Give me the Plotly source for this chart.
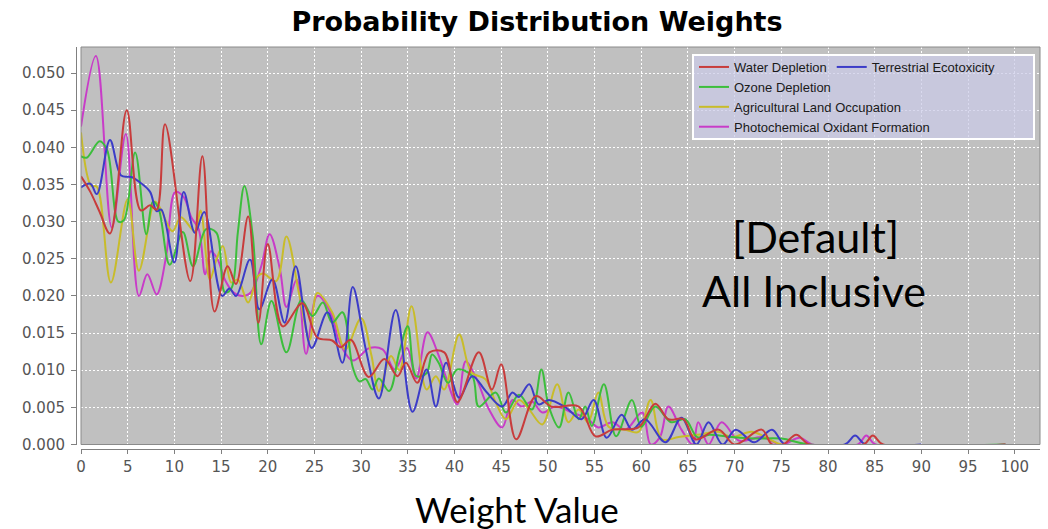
import plotly.graph_objects as go

# ---------------- data ----------------
water_x = [0, 1, 2, 3.1, 4.9, 6.4, 7.4, 8.1, 9.0, 11.7, 13.0, 14.3, 15.7, 16.6, 17.9, 19.0, 20.0,
           21.6, 23.7, 25.3, 26.9, 27.8, 28.9, 30.8, 32.5, 33.9, 34.8, 36.0, 37.3, 38.9, 40.3, 42.6,
           44.0, 45.0, 46.6, 48.7, 50.4, 53.3, 55.1, 56.9, 59.7, 61.5, 62.9, 64.5, 65.8, 68.3, 70.0,
           72.9, 74.0, 75.2, 76.6, 78.0, 83.8, 84.8, 85.9, 99.0]
water_y = [0.0361, 0.0340, 0.0313, 0.0284, 0.0450, 0.0315, 0.0322, 0.0316, 0.0431, 0.0220, 0.0388,
           0.0179, 0.0240, 0.0216, 0.0307, 0.0164, 0.0270, 0.0159, 0.0190, 0.0144, 0.0140, 0.0131,
           0.0141, 0.0091, 0.0115, 0.0092, 0.0110, 0.0083, 0.0124, 0.0124, 0.0057, 0.0124, 0.0074,
           0.0108, 0.0007, 0.0065, 0.0051, 0.0051, 0.0011, 0.0020, 0.0023, 0.0055, 0.0034, 0.0034,
           0.0007, 0.0020, 0.0, 0.0020, 0.0, 0.0, 0.0013, 0.0, 0.0, 0.0012, 0.0, 0.0]

terr_x = [0, 1.0, 1.7, 3.1, 4.3, 5.4, 6.4, 7.4, 8.1, 8.6, 10.0, 11.0, 12.2, 13.2, 15.1, 15.9, 16.6,
          18.1, 19.1, 20.5, 21.8, 23.0, 24.7, 26.4, 28.0, 29.1, 30.5, 31.9, 33.7, 35.5, 37.0, 38.0,
          39.1, 40.5, 41.9, 43.4, 45.1, 46.2, 46.9, 48.0, 49.0, 50.1, 51.9, 53.6, 54.9, 56.3, 57.9,
          59.0, 60.4, 62.6, 64.3, 65.9, 67.2, 68.7, 70.1, 72.1, 74.0, 75.4, 81.8, 82.9, 84.0, 90.0]
terr_y = [0.0346, 0.0351, 0.0337, 0.0410, 0.0362, 0.0360, 0.0352, 0.0340, 0.0314, 0.0316, 0.0245,
          0.0340, 0.0285, 0.0313, 0.0200, 0.0210, 0.0200, 0.0249, 0.0182, 0.0222, 0.0164, 0.0240,
          0.0130, 0.0178, 0.0110, 0.0212, 0.0128, 0.0062, 0.0181, 0.0044, 0.0101, 0.0051, 0.0110,
          0.0063, 0.0092, 0.0071, 0.0051, 0.0070, 0.0064, 0.0081, 0.0054, 0.0060, 0.0050, 0.0034,
          0.0060, 0.0009, 0.0040, 0.0020, 0.0034, 0.0003, 0.0036, 0.0, 0.0030, 0.0, 0.0020, 0.0003,
          0.0020, 0.0, 0.0, 0.0012, 0.0, 0.0]

ozone_x = [0, 0.6, 2.0, 2.8, 4.0, 4.6, 5.8, 7.0, 7.7, 8.3, 9.5, 10.9, 12.0, 13.4, 14.5, 15.4, 16.1,
           16.8, 17.5, 18.4, 19.3, 20.4, 22.0, 23.6, 24.8, 25.9, 26.9, 28.0, 29.1, 29.8, 30.5, 31.2,
           31.9, 33.0, 34.1, 35.0, 35.9, 37.0, 37.6, 38.3, 39.3, 40.3, 41.9, 42.6, 44.4, 45.5, 46.9,
           48.3, 49.3, 50.1, 51.2, 52.2, 53.3, 54.0, 54.7, 56.0, 57.3, 59.0, 60.0, 61.5, 63.2, 64.7,
           66.0, 67.3, 69.7, 72.0, 75.0, 78.0, 99.0]
ozone_y = [0.0388, 0.0386, 0.0408, 0.0396, 0.0300, 0.0302, 0.0393, 0.0283, 0.0327, 0.0318, 0.0242,
           0.0286, 0.0240, 0.0290, 0.0285, 0.0205, 0.0210, 0.0286, 0.0348, 0.0280, 0.0135, 0.0193,
           0.0124, 0.0194, 0.0173, 0.0191, 0.0164, 0.0178, 0.0104, 0.0085, 0.0088, 0.0074, 0.0089,
           0.0072, 0.0125, 0.0159, 0.0092, 0.0096, 0.0121, 0.0110, 0.0083, 0.0101, 0.0092, 0.0051,
           0.0070, 0.0043, 0.0067, 0.0047, 0.0101, 0.0051, 0.0023, 0.0070, 0.0034, 0.0051, 0.0025,
           0.0081, 0.0011, 0.0060, 0.0024, 0.0051, 0.0030, 0.0034, 0.0010, 0.0013, 0.0010, 0.0008,
           0.0008, 0.0, 0.0]

agri_x = [0, 1.1, 1.7, 3.2, 5.0, 6.2, 7.9, 8.4, 9.8, 10.7, 12.2, 12.8, 13.8, 14.5, 15.2, 16.1, 16.8,
          17.9, 18.9, 19.5, 20.9, 22.0, 23.4, 24.5, 25.3, 26.9, 28.3, 30.0, 31.1, 31.9, 33.2, 34.1,
          35.4, 37.0, 38.0, 38.9, 40.5, 41.8, 43.3, 44.4, 45.5, 46.9, 48.0, 49.4, 51.0, 52.2, 53.3,
          54.3, 55.4, 56.5, 58.3, 59.7, 61.0, 62.2, 64.0, 66.0, 68.3, 69.7, 71.8, 73.3, 75.0, 78.0]
agri_y = [0.0420, 0.0348, 0.0347, 0.0218, 0.0330, 0.0234, 0.0327, 0.0320, 0.0287, 0.0306, 0.0287,
          0.0315, 0.0222, 0.0249, 0.0267, 0.0218, 0.0222, 0.0191, 0.0226, 0.0230, 0.0220, 0.0280,
          0.0200, 0.0141, 0.0204, 0.0178, 0.0128, 0.0170, 0.0120, 0.0072, 0.0119, 0.0100, 0.0186,
          0.0074, 0.0092, 0.0074, 0.0148, 0.0097, 0.0088, 0.0057, 0.0034, 0.0060, 0.0047, 0.0027,
          0.0081, 0.0030, 0.0047, 0.0030, 0.0070, 0.0024, 0.0020, 0.0017, 0.0060, 0.0007, 0.0010,
          0.0013, 0.0017, 0.0010, 0.0017, 0.0010, 0.0, 0.0]

photo_x = [0, 1.6, 3.3, 4.8, 6.2, 7.1, 8.1, 9.1, 10.1, 11.0, 11.8, 12.6, 13.3, 13.9, 14.6, 15.4, 16.3,
           17.3, 18.2, 19.3, 20.2, 21.3, 22.0, 23.1, 24.1, 25.3, 26.9, 27.6, 29.1, 30.9, 32.3, 33.6,
           34.9, 35.9, 37.1, 38.3, 39.1, 40.3, 41.2, 42.3, 43.7, 45.1, 46.2, 47.2, 48.3, 49.4, 50.8,
           52.6, 54.3, 55.4, 56.9, 58.3, 60.1, 61.0, 62.0, 62.9, 64.3, 65.5, 66.1, 67.2, 68.6, 70.5,
           72.9, 75.0, 77.0, 78.3, 83.2, 84.1, 85.1, 99.0]
photo_y = [0.0428, 0.0523, 0.0292, 0.0418, 0.0200, 0.0229, 0.0202, 0.0252, 0.0340, 0.0333, 0.0306,
           0.0290, 0.0229, 0.0260, 0.0250, 0.0222, 0.0205, 0.0200, 0.0205, 0.0240, 0.0283, 0.0236,
           0.0185, 0.0222, 0.0122, 0.0200, 0.0173, 0.0140, 0.0113, 0.0130, 0.0128, 0.0101, 0.0130,
           0.0089, 0.0151, 0.0120, 0.0090, 0.0054, 0.0112, 0.0090, 0.0047, 0.0023, 0.0060, 0.0051,
           0.0058, 0.0043, 0.0051, 0.0043, 0.0034, 0.0023, 0.0030, 0.0020, 0.0043, 0.0, 0.0010,
           0.0051, 0.0020, 0.0, 0.0030, 0.0, 0.0030, 0.0005, 0.0010, 0.0, 0.0009, 0.0, 0.0, 0.0012,
           0.0, 0.0]

series_names = ["Water Depletion", "Terrestrial Ecotoxicity", "Ozone Depletion",
                "Agricultural Land Occupation", "Photochemical Oxidant Formation"]
x_ticks = list(range(0, 101, 5))

title_text = "Probability Distribution Weights"
note_lines = ["[Default]", "All Inclusive"]
x_label = "Weight Value"

# ---------------- layout geometry (pixels) ----------------
W, H = 1048, 529
ML, MR, MT, MB = 76, 8, 47, 79.5
PW, PH = W - ML - MR, H - MT - MB


def px2x(px):
    return (px - ML) / PW


def py2y(py):
    return (H - MB - py) / PH


colors = ["#c83c3c", "#3c3cc8", "#3cbe3c", "#c8bc2a", "#c83cc8"]
legends = ["legend", "legend", "legend2", "legend2", "legend2"]
xs = [water_x, terr_x, ozone_x, agri_x, photo_x]
ys = [water_y, terr_y, ozone_y, agri_y, photo_y]

fig = go.Figure()
for i in reversed(range(5)):
    fig.add_trace(go.Scatter(
        x=xs[i], y=ys[i], mode="lines", name=series_names[i],
        line=dict(color=colors[i], width=2, shape="spline", smoothing=1.0),
        legend=legends[i], legendrank=i + 1,
    ))

tick_font = dict(family="DejaVu Sans", size=15, color="#555555")
grid = dict(showgrid=True, gridcolor="white", gridwidth=1, griddash="2px,2px")
leg_font = dict(family="Liberation Sans", size=13, color="#1a1a1a")

fig.update_layout(
    width=W, height=H,
    margin=dict(l=ML, r=MR, t=MT, b=MB, pad=0),
    paper_bgcolor="white", plot_bgcolor="#c0c0c0",
    showlegend=True,
    title=dict(text="<b>" + title_text + "</b>", x=537 / W, xanchor="center",
               y=1 - 22 / H, yanchor="middle", yref="container",
               font=dict(family="DejaVu Sans", size=27, color="black")),
    xaxis=dict(domain=[5 / PW, 1], anchor="free", position=0,
               range=[0, 102.7], tickvals=x_ticks, ticks="outside", ticklen=4,
               tickcolor="#808080", showline=True, linecolor="#808080", linewidth=1,
               zeroline=False, tickfont=tick_font, **grid),
    yaxis=dict(domain=[4.5 / PH, 1], anchor="free", position=0,
               range=[0, 0.0535], dtick=0.005, tick0=0, tickformat=".3f",
               ticks="outside", ticklen=5, tickcolor="#808080", showline=True,
               linecolor="#808080", linewidth=1, zeroline=False, tickfont=tick_font,
               ticklabelstandoff=3, **grid),
    legend=dict(orientation="h", x=px2x(694), y=py2y(52), xanchor="left", yanchor="top",
                bgcolor="rgba(0,0,0,0)", itemwidth=30, font=leg_font),
    legend2=dict(orientation="v", x=px2x(694), y=py2y(72), xanchor="left", yanchor="top",
                 bgcolor="rgba(0,0,0,0)", itemwidth=30, tracegroupgap=0, font=leg_font),
)

# plot outline
fig.add_shape(type="rect", xref="x domain", yref="y domain", x0=0, x1=1, y0=0, y1=1,
              line=dict(color="#8a8a8a", width=1), layer="above")
# legend box
fig.add_shape(type="rect", xref="paper", yref="paper",
              x0=px2x(693), x1=px2x(1034), y0=py2y(139), y1=py2y(55),
              fillcolor="rgba(203,203,232,0.72)", line=dict(color="white", width=2),
              layer="above")

big = dict(family="Lato", size=43, color="black")
fig.add_annotation(text=note_lines[0], xref="paper", yref="paper", x=px2x(815), y=py2y(237),
                   showarrow=False, font=big, xanchor="center", yanchor="middle")
fig.add_annotation(text=note_lines[1], xref="paper", yref="paper", x=px2x(814), y=py2y(291),
                   showarrow=False, font=big, xanchor="center", yanchor="middle")
fig.add_annotation(text=x_label, xref="paper", yref="paper", x=px2x(517), y=py2y(510),
                   showarrow=False, font=dict(family="Lato", size=35, color="black"),
                   xanchor="center", yanchor="middle")

fig.write_html("out.html")
